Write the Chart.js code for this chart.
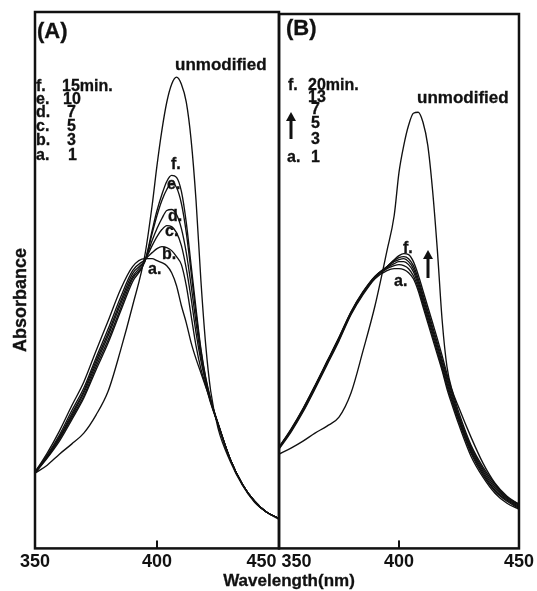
<!DOCTYPE html>
<html lang="en">
  <head>
    <meta charset="UTF-8" />
    <script src="https://cdn.jsdelivr.net/npm/chart.js"></script>
    <style>
      body {
        margin: 0;
        background: #fff;
      }
      #wrap {
        position: relative;
        width: 537px;
        height: 591px;
      }
      canvas {
        position: absolute;
        left: 0;
        top: 0;
      }
      .t {
        position: absolute;
        font-family: "Liberation Sans", Arial, sans-serif;
        font-weight: bold;
        color: #111;
        white-space: pre;
        line-height: 1;
        -webkit-text-stroke: 0.3px #111;
      }
      .leg { font-size: 16px; }
      .lbl { font-size: 16px; }
      svg { position: absolute; }
    </style>
  </head>
  <body>
    <div id="wrap">
      <canvas id="chartA" width="537" height="591"></canvas>
      <canvas id="chartB" width="537" height="591"></canvas>

      <!-- panel A text -->
      <div class="t" style="font-size:22px; left:37px; top:20px">(A)</div>
      <div class="t" style="font-size:17px; left:175px; top:56px">unmodified</div>
      <div class="t leg" style="left:36px; top:78px">f.</div>
      <div class="t leg" style="left:62px; top:78px">15min.</div>
      <div class="t leg" style="left:36px; top:91px">e.</div>
      <div class="t leg" style="left:63px; top:91px">10</div>
      <div class="t leg" style="left:36px; top:104px">d.</div>
      <div class="t leg" style="left:67px; top:104px">7</div>
      <div class="t leg" style="left:36px; top:118px">c.</div>
      <div class="t leg" style="left:67px; top:118px">5</div>
      <div class="t leg" style="left:36px; top:132px">b.</div>
      <div class="t leg" style="left:67px; top:132px">3</div>
      <div class="t leg" style="left:36px; top:147px">a.</div>
      <div class="t leg" style="left:68px; top:147px">1</div>
      <div class="t lbl" style="left:171px; top:156px">f.</div>
      <div class="t lbl" style="left:167px; top:176px">e.</div>
      <div class="t lbl" style="left:168px; top:208px">d.</div>
      <div class="t lbl" style="left:165px; top:223px">c.</div>
      <div class="t lbl" style="left:162px; top:246px">b.</div>
      <div class="t lbl" style="left:148px; top:261px">a.</div>

      <!-- panel B text -->
      <div class="t" style="font-size:22px; left:286px; top:17px">(B)</div>
      <div class="t" style="font-size:17px; left:417px; top:89px">unmodified</div>
      <div class="t leg" style="left:288px; top:77px">f.</div>
      <div class="t leg" style="left:308px; top:77px">20min.</div>
      <div class="t leg" style="left:308px; top:89px">13</div>
      <div class="t leg" style="left:311px; top:101px">7</div>
      <div class="t leg" style="left:311px; top:115px">5</div>
      <div class="t leg" style="left:311px; top:131px">3</div>
      <div class="t leg" style="left:287px; top:149px">a.</div>
      <div class="t leg" style="left:311px; top:149px">1</div>
      <div class="t lbl" style="left:403px; top:240px">f.</div>
      <div class="t lbl" style="left:394px; top:273px">a.</div>
      <svg style="left:286px; top:112px" width="10" height="27">
        <path d="M5 27 L5 6" stroke="#111" stroke-width="3" />
        <path d="M0 9 L5 0 L10 9 Z" fill="#111" />
      </svg>
      <svg style="left:423px; top:250px" width="10" height="28">
        <path d="M5 28 L5 6" stroke="#111" stroke-width="3" />
        <path d="M0 9 L5 0 L10 9 Z" fill="#111" />
      </svg>

      <!-- axis titles -->
      <div class="t" style="font-size:18px; left:20px; top:300px; transform:translate(-50%,-50%) rotate(-90deg)">Absorbance</div>
      <div class="t" style="font-size:17px; left:289px; top:572px; transform:translateX(-50%)">Wavelength(nm)</div>
    </div>

    <script>
      // wavelength grid (nm), shared by every curve
      const wavelengths = [350, 355, 360, 365, 370, 375, 380, 385, 390, 395, 398, 400, 402, 404, 406, 408, 410, 412, 414, 416, 418, 420, 422, 425, 430, 435, 440, 445, 450];

      // panel A
      const aUnmodified = [0.150, 0.166, 0.188, 0.208, 0.230, 0.266, 0.314, 0.394, 0.484, 0.584, 0.684, 0.764, 0.834, 0.890, 0.926, 0.940, 0.926, 0.890, 0.814, 0.694, 0.534, 0.404, 0.314, 0.240, 0.174, 0.126, 0.092, 0.072, 0.058];
      const aMin1 = [0.152, 0.190, 0.234, 0.284, 0.332, 0.394, 0.454, 0.516, 0.562, 0.578, 0.578, 0.574, 0.570, 0.564, 0.550, 0.524, 0.484, 0.450, 0.410, 0.378, 0.350, 0.322, 0.294, 0.250, 0.178, 0.128, 0.094, 0.072, 0.060];
      const aMin3 = [0.152, 0.186, 0.226, 0.274, 0.320, 0.380, 0.438, 0.500, 0.554, 0.576, 0.590, 0.598, 0.602, 0.600, 0.594, 0.582, 0.566, 0.524, 0.464, 0.404, 0.358, 0.324, 0.290, 0.248, 0.178, 0.128, 0.094, 0.072, 0.060];
      const aMin5 = [0.152, 0.184, 0.222, 0.268, 0.314, 0.374, 0.430, 0.492, 0.548, 0.574, 0.604, 0.622, 0.636, 0.644, 0.642, 0.630, 0.604, 0.558, 0.498, 0.430, 0.374, 0.330, 0.292, 0.248, 0.178, 0.128, 0.094, 0.072, 0.060];
      const aMin7 = [0.152, 0.182, 0.220, 0.264, 0.310, 0.368, 0.424, 0.486, 0.542, 0.574, 0.614, 0.638, 0.658, 0.674, 0.676, 0.666, 0.638, 0.590, 0.524, 0.450, 0.384, 0.334, 0.294, 0.248, 0.178, 0.128, 0.094, 0.072, 0.060];
      const aMin10 = [0.152, 0.182, 0.218, 0.260, 0.304, 0.362, 0.416, 0.478, 0.538, 0.572, 0.628, 0.664, 0.694, 0.716, 0.728, 0.720, 0.688, 0.630, 0.550, 0.468, 0.394, 0.338, 0.296, 0.248, 0.178, 0.128, 0.094, 0.072, 0.060];
      const aMin15 = [0.150, 0.180, 0.214, 0.256, 0.300, 0.356, 0.410, 0.472, 0.532, 0.572, 0.634, 0.674, 0.706, 0.732, 0.744, 0.740, 0.712, 0.650, 0.564, 0.478, 0.398, 0.340, 0.298, 0.248, 0.178, 0.128, 0.094, 0.072, 0.060];

      // panel B
      const bUnmodified = [0.188, 0.200, 0.214, 0.230, 0.244, 0.262, 0.310, 0.394, 0.484, 0.594, 0.664, 0.750, 0.804, 0.844, 0.868, 0.870, 0.850, 0.804, 0.714, 0.594, 0.454, 0.362, 0.318, 0.280, 0.222, 0.170, 0.130, 0.104, 0.088];
      const bMin1 = [0.198, 0.232, 0.272, 0.318, 0.366, 0.414, 0.466, 0.506, 0.538, 0.554, 0.558, 0.558, 0.556, 0.550, 0.538, 0.514, 0.482, 0.450, 0.418, 0.386, 0.354, 0.318, 0.288, 0.246, 0.184, 0.142, 0.110, 0.090, 0.078];
      const bMin3 = [0.200, 0.234, 0.274, 0.320, 0.368, 0.416, 0.468, 0.508, 0.540, 0.558, 0.564, 0.566, 0.564, 0.558, 0.544, 0.520, 0.488, 0.456, 0.424, 0.392, 0.358, 0.324, 0.294, 0.252, 0.190, 0.146, 0.114, 0.094, 0.080];
      const bMin5 = [0.200, 0.235, 0.276, 0.322, 0.370, 0.418, 0.469, 0.509, 0.541, 0.560, 0.568, 0.572, 0.572, 0.566, 0.552, 0.526, 0.494, 0.462, 0.430, 0.398, 0.364, 0.330, 0.298, 0.256, 0.194, 0.150, 0.116, 0.096, 0.082];
      const bMin7 = [0.201, 0.236, 0.277, 0.323, 0.371, 0.419, 0.470, 0.510, 0.542, 0.562, 0.572, 0.576, 0.578, 0.572, 0.558, 0.532, 0.500, 0.468, 0.436, 0.404, 0.370, 0.336, 0.304, 0.260, 0.198, 0.154, 0.120, 0.098, 0.084];
      const bMin13 = [0.201, 0.237, 0.278, 0.324, 0.372, 0.420, 0.471, 0.511, 0.542, 0.562, 0.574, 0.580, 0.582, 0.578, 0.564, 0.538, 0.506, 0.474, 0.442, 0.410, 0.376, 0.342, 0.310, 0.264, 0.202, 0.158, 0.124, 0.100, 0.086];
      const bMin20 = [0.202, 0.238, 0.279, 0.325, 0.373, 0.421, 0.472, 0.512, 0.543, 0.562, 0.576, 0.584, 0.588, 0.586, 0.572, 0.546, 0.514, 0.482, 0.450, 0.418, 0.384, 0.348, 0.316, 0.270, 0.206, 0.162, 0.128, 0.102, 0.088];

      const xTicks = [350, 400, 450];

      Chart.defaults.font.family = "'Liberation Sans', Arial, sans-serif";
      Chart.defaults.color = "#111";

      // frame round the plot area plus the small inner tick at 400
      const framePlugin = {
        id: "frame",
        afterDraw(chart) {
          const { ctx, chartArea: a, scales } = chart;
          ctx.save();
          ctx.strokeStyle = "#111";
          ctx.lineWidth = 2.5;
          ctx.strokeRect(a.left, a.top, a.right - a.left, a.bottom - a.top);
          const px = scales.x.getPixelForValue(xTicks[1]);
          ctx.lineWidth = 2;
          ctx.beginPath();
          ctx.moveTo(px, a.bottom);
          ctx.lineTo(px, a.bottom - 8);
          ctx.stroke();
          ctx.restore();
        },
      };

      function toSeries(values) {
        return {
          data: wavelengths.map((w, i) => ({ x: w, y: values[i] })),
          borderColor: "#111",
          borderWidth: 1.35,
          pointRadius: 0,
          fill: false,
          cubicInterpolationMode: "monotone",
        };
      }

      function makeChart(id, series, padding, yMax, label) {
        return new Chart(document.getElementById(id), {
          type: "line",
          data: { datasets: series.map(toSeries) },
          plugins: [framePlugin],
          options: {
            responsive: false,
            animation: false,
            events: [],
            layout: { padding: padding },
            plugins: { legend: { display: false }, tooltip: { enabled: false } },
            scales: {
              x: {
                type: "linear",
                min: 350,
                max: 450,
                afterBuildTicks: (axis) => {
                  axis.ticks = xTicks.map((v) => ({ value: v }));
                },
                grid: { display: false, drawTicks: false },
                border: { display: false },
                ticks: {
                  padding: 3,
                  font: { size: 18, weight: "bold" },
                  color: "#111",
                  callback: label,
                },
              },
              y: { display: false, min: 0, max: yMax },
            },
          },
        });
      }

      const nb = "\u00a0".repeat(7);

      makeChart(
        "chartA",
        [aUnmodified, aMin1, aMin3, aMin5, aMin7, aMin10, aMin15],
        { left: 35, right: 258, top: 12, bottom: 15 },
        1.07,
        (v) => (v === 450 ? "450" + nb : String(v))
      );

      makeChart(
        "chartB",
        [bUnmodified, bMin1, bMin3, bMin5, bMin7, bMin13, bMin20],
        { left: 279, right: 16, top: 14, bottom: 15 },
        1.066,
        (v) => (v === 350 ? nb + "350" : String(v))
      );
    </script>
  </body>
</html>
